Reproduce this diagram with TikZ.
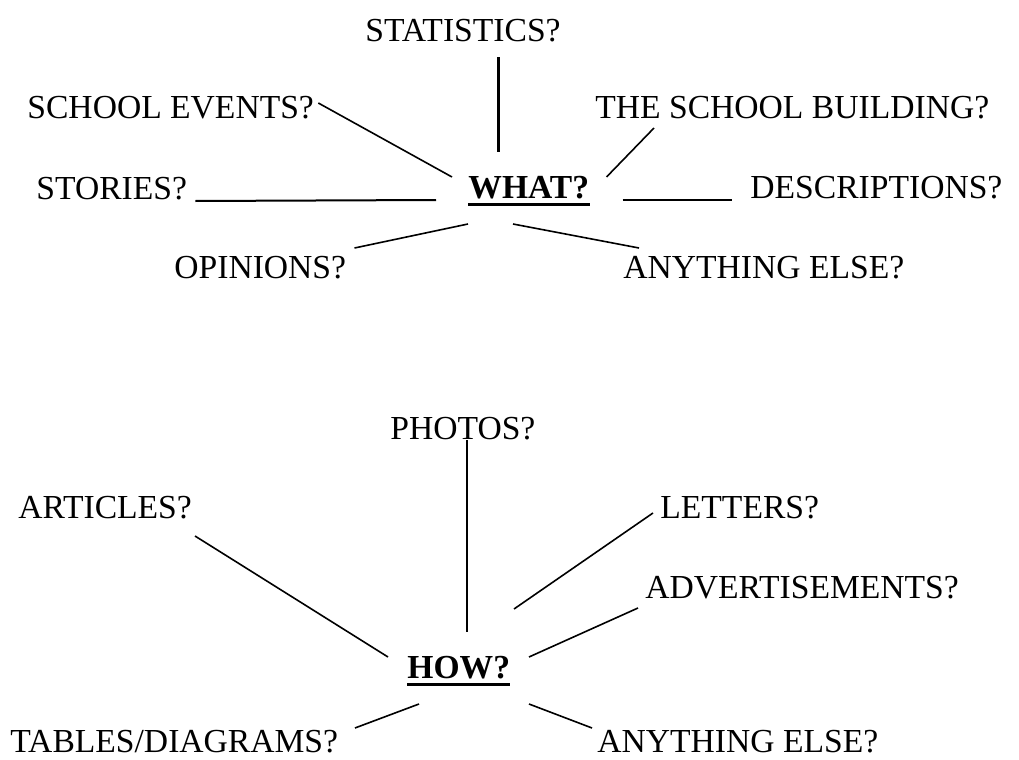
\documentclass[tikz,border=0pt]{standalone}
\usepackage{fontspec}
\setmainfont{Liberation Serif}
\tikzset{
  topic/.style = {inner sep = 0, anchor = base west, font = \fontsize{16.8}{20}\selectfont},
  hub/.style = {topic, font = \fontsize{16.8}{20}\selectfont\bfseries},
  link/.style = {line width = 0.8pt},
  boldlink/.style = {line width = 1.5pt},
  midlink/.style = {line width = 1.0pt},
  uline/.style = {line width = 1.5pt}
}

\begin{document}
\begin{tikzpicture} [x = 0.5pt, y = -0.5pt]
\useasboundingbox (0, 0) rectangle (1019, 760);

% what
\node[hub] (what) at (468, 198){WHAT?};
\draw[uline] ([shift = {(0, 6)}]what.base west) -- ([shift = {(0, 6)}]what.base east);
\node[topic] (stats) at (365, 41){STATISTICS?};
\node[topic] (events) at (27, 119){SCHOOL EVENTS?};
\node[topic] (stories) at (36, 199){STORIES?};
\node[topic] (opinions) at (174, 278){OPINIONS?};
\node[topic] (building) at (595, 118){THE SCHOOL BUILDING?};
\node[topic] (descr) at (750, 198){DESCRIPTIONS?};
\node[topic] (else1) at (623, 278){ANYTHING ELSE?};

\draw[boldlink] ([shift = {(133, 16)}]stats.base west) -- ([shift = {(30, -46)}]what.base west);
\draw[link] ([shift = {(4, -16)}]events.base east) -- ([shift = {(-16, -21)}]what.base west);
\draw[midlink] ([shift = {(8, 2)}]stories.base east) -- ([shift = {(-32, 2)}]what.base west);
\draw[link] ([shift = {(8, -30)}]opinions.base east) -- ([shift = {(0, 26)}]what.base west);
\draw[link] ([shift = {(59, 10)}]building.base west) -- ([shift = {(17, -21)}]what.base east);
\draw[midlink] ([shift = {(33, 2)}]what.base east) -- ([shift = {(-18, 2)}]descr.base west);
\draw[link] ([shift = {(45, 26)}]what.base west) -- ([shift = {(16, -30)}]else1.base west);

% how
\node[hub] (how) at (407, 678){HOW?};
\draw[uline] ([shift = {(0, 6)}]how.base west) -- ([shift = {(0, 6)}]how.base east);
\node[topic] (photos) at (390, 439){PHOTOS?};
\node[topic] (articles) at (18, 518){ARTICLES?};
\node[topic] (letters) at (660, 518){LETTERS?};
\node[topic] (adverts) at (645, 598){ADVERTISEMENTS?};
\node[topic] (tables) at (10, 752){TABLES/DIAGRAMS?};
\node[topic] (else2) at (597, 752){ANYTHING ELSE?};

\draw[midlink] ([shift = {(77, 1)}]photos.base west) -- ([shift = {(60, -46)}]how.base west);
\draw[link] ([shift = {(177, 18)}]articles.base west) -- ([shift = {(-19, -21)}]how.base west);
\draw[link] ([shift = {(-7, -5)}]letters.base west) -- ([shift = {(107, -69)}]how.base west);
\draw[link] ([shift = {(-7, 10)}]adverts.base west) -- ([shift = {(122, -21)}]how.base west);
\draw[link] ([shift = {(345, -24)}]tables.base west) -- ([shift = {(12, 26)}]how.base west);
\draw[link] ([shift = {(122, 26)}]how.base west) -- ([shift = {(-5, -24)}]else2.base west);
\end{tikzpicture}
\end{document}
